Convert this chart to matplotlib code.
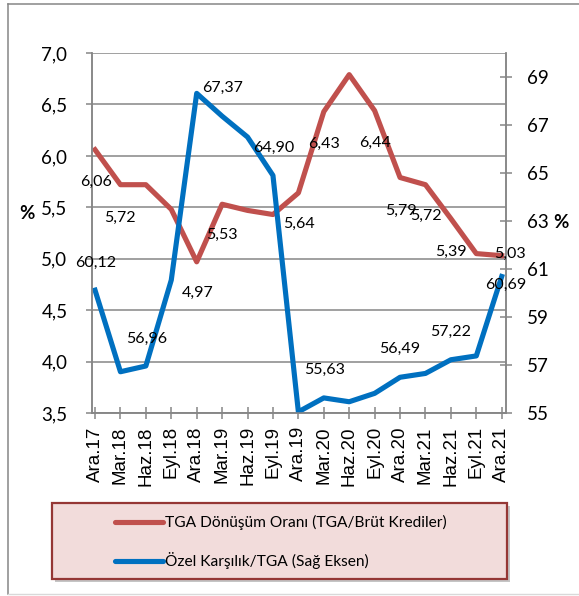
import matplotlib
matplotlib.use('Agg')
import matplotlib.pyplot as plt
from matplotlib.lines import Line2D
from matplotlib.patches import Rectangle

donemler = ['Ara.17', 'Mar.18', 'Haz.18', 'Eyl.18', 'Ara.18', 'Mar.19', 'Haz.19',
            'Eyl.19', 'Ara.19', 'Mar.20', 'Haz.20', 'Eyl.20', 'Ara.20', 'Mar.21',
            'Haz.21', 'Eyl.21', 'Ara.21']
tga_donusum = [6.06, 5.72, 5.72, 5.48, 4.97, 5.53, 5.47, 5.43, 5.64, 6.43, 6.79,
               6.44, 5.79, 5.72, 5.39, 5.05, 5.03]
ozel_karsilik = [60.12, 56.72, 56.96, 60.54, 68.32, 67.37, 66.50, 64.90, 55.05,
                 55.63, 55.47, 55.82, 56.49, 56.65, 57.22, 57.38, 60.69]

# hangi noktalarda etiket var: (indeks, x ofset, y ofset) piksel
etiket_kirmizi = [(0, 1, -32), (1, 0, -33), (4, 1, -31), (5, 0, -31), (8, 1, -31),
                  (9, 0, -32), (11, 0, -32), (12, 1, -33), (13, 0, -31), (14, 0, -33),
                  (16, 8, 2)]
etiket_mavi = [(0, 1, 27), (2, 1, 27), (5, 0, 28), (7, 1, 28), (9, 1, 28),
               (12, 0, 28), (14, 0, 28), (16, 4, -8)]

kirmizi = '#C0504D'
mavi = '#0070C0'
gri = '#868686'
yazi = 'Lato'

fig = plt.figure(figsize=(5.79, 5.96), dpi=100)
ax = fig.add_axes([0.1584, 0.307, 0.874 - 0.1584, 0.911 - 0.307])
ax2 = ax.twinx()

x = list(range(len(donemler)))
ax.plot(x, tga_donusum, color=kirmizi, lw=3.7, solid_joinstyle='round')
ax2.plot(x, ozel_karsilik, color=mavi, lw=3.7, solid_joinstyle='round')

ax.set_xlim(-0.13, 16.17)
ax.set_ylim(3.5, 7.0)
ax2.set_ylim(55, 70)
ax.set_yticks([3.5 + 0.5 * i for i in range(8)])
ax.set_yticklabels([f'{3.5 + 0.5 * i:.1f}'.replace('.', ',') for i in range(8)],
                   fontfamily=yazi, fontsize=13.5)
ax2.set_yticks(list(range(55, 70, 2)))
ax2.set_yticklabels([str(v) for v in range(55, 70, 2)], fontfamily=yazi, fontsize=13.5)
ax.set_xticks(x)
ax.set_xticklabels(donemler, rotation=90, fontfamily='Liberation Sans', fontsize=13.5)

ax.grid(axis='y', color=gri, lw=1.1)
ax.set_axisbelow(True)
for a in (ax, ax2):
    for s in a.spines.values():
        s.set_color(gri)
        s.set_linewidth(1.1)
    a.spines['top'].set_visible(False)
ax.tick_params(axis='y', direction='out', length=4.5, width=1.1, color=gri, pad=13)
ax.tick_params(axis='x', direction='inout', length=9, width=1.1, color=gri, pad=5)
ax2.tick_params(axis='y', direction='inout', length=8.6, width=1.1, color=gri, pad=11)

for i, dx, dy in etiket_kirmizi:
    ax2.annotate(f'{tga_donusum[i]:.2f}'.replace('.', ','), xy=(i, tga_donusum[i]),
                 xycoords=ax.transData, xytext=(dx, dy), textcoords='offset pixels',
                 ha='center', va='center', fontfamily=yazi, fontsize=11.5, zorder=10)
for i, dx, dy in etiket_mavi:
    ax2.annotate(f'{ozel_karsilik[i]:.2f}'.replace('.', ','), xy=(i, ozel_karsilik[i]),
                 xytext=(dx, dy), textcoords='offset pixels',
                 ha='center', va='center', fontfamily=yazi, fontsize=11.5, zorder=10)

W, H = 579, 596
fig.text(27 / W, 1 - 213 / H, '%', ha='center', va='center', fontfamily=yazi,
         fontsize=13.5, fontweight='bold')
fig.text(561 / W, 1 - 222 / H, '%', ha='center', va='center', fontfamily=yazi,
         fontsize=13.5, fontweight='bold')

# grafik alanı çerçevesi
fig.add_artist(Line2D([8 / W, 8 / W], [1 - 4 / H, 1 - 594 / H], color=gri, lw=1.1))
fig.add_artist(Line2D([8 / W, 1], [1 - 4 / H, 1 - 4 / H], color=gri, lw=1.1))
fig.add_artist(Line2D([8 / W, 1], [1 - 594 / H, 1 - 594 / H], color='#d9d9d9', lw=1))

# lejant kutusu
lx0, lx1, ly0, ly1 = 51.7, 506.7, 502.7, 579.3
fig.add_artist(Rectangle(((lx0 + 3) / W, 1 - (ly1 + 3) / H), (lx1 - lx0) / W,
                         (ly1 - ly0) / H, transform=fig.transFigure,
                         facecolor='#7f7f7f', edgecolor='none', alpha=0.45))
fig.add_artist(Rectangle((lx0 / W, 1 - ly1 / H), (lx1 - lx0) / W, (ly1 - ly0) / H,
                         transform=fig.transFigure, facecolor='#F2DCDB',
                         edgecolor='#953735', lw=1.6))
seriler = [('TGA Dönüşüm Oranı (TGA/Brüt Krediler)', kirmizi, 522.3),
           ('Özel Karşılık/TGA (Sağ Eksen)', mavi, 560.7)]
for ad, renk, yy in seriler:
    fig.add_artist(Line2D([115 / W, 163 / W], [1 - yy / H, 1 - yy / H], color=renk,
                          lw=3.7, solid_capstyle='round'))
    fig.text(165 / W, 1 - yy / H, ad, ha='left', va='center', fontfamily=yazi,
             fontsize=11.2)

plt.savefig('out.png', dpi=100)
